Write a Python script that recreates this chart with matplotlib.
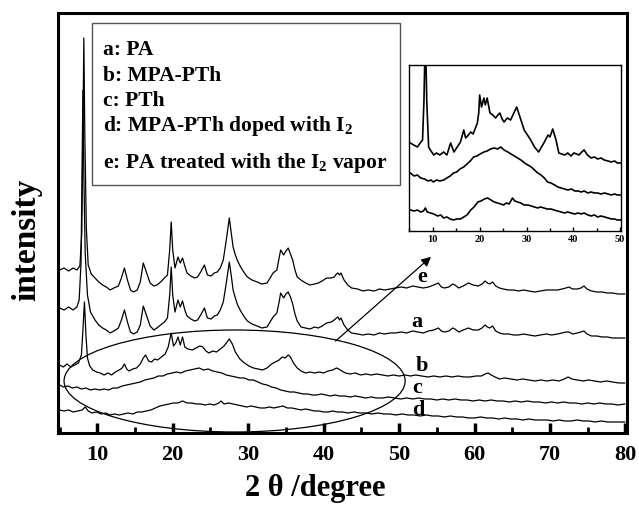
import matplotlib
matplotlib.use("Agg")
import matplotlib.pyplot as plt
from matplotlib.patches import Ellipse, Rectangle
from matplotlib.ticker import MultipleLocator

plt.rcParams["font.family"] = "Liberation Serif"
plt.rcParams["font.weight"] = "bold"
plt.rcParams["mathtext.fontset"] = "custom"
plt.rcParams["mathtext.rm"] = "Liberation Serif:bold"
plt.rcParams["mathtext.bf"] = "Liberation Serif:bold"
plt.rcParams["mathtext.default"] = "bf"

# ---- main XRD curves (arbitrary intensity units, offset traces) ----
e_x = [5.0, 5.6, 6.2, 6.8, 7.3, 7.7, 7.95, 8.1, 8.22, 8.35, 8.55, 8.8, 9.2, 9.7, 10.2, 10.7, 11.2, 11.7,
       12.2, 12.8, 13.2, 13.6, 14.0, 14.4, 14.8, 15.3, 15.7, 16.1, 16.5, 17.0, 17.5, 17.9, 18.4, 18.9,
       19.3, 19.6, 19.8, 20.0, 20.3, 20.7, 21.0, 21.3, 21.6, 21.9, 22.4, 22.9, 23.3, 23.7, 24.2, 24.6,
       25.1, 25.5, 25.9, 26.3, 26.7, 27.1, 27.5, 27.8, 28.0, 28.3, 28.6, 29.0, 29.5, 29.9, 30.5, 31.2,
       31.8, 32.5, 32.9, 33.3, 33.8, 34.1, 34.3, 34.7, 35.0, 35.3, 35.6, 35.9, 36.2, 36.5, 37.0, 37.6,
       38.2, 38.8, 39.3, 39.8, 40.4, 41.0, 41.4, 41.7, 41.9, 42.1, 42.3, 42.7, 43.2, 43.7, 44.5, 45.2,
       45.9, 46.7, 47.4, 48.1, 48.8, 49.5, 50.3, 51.0, 51.8, 52.5, 53.2, 53.9, 54.6, 55.2, 55.6, 56.0,
       56.6, 57.1, 57.4, 57.9, 58.5, 59.2, 59.8, 60.5, 61.0, 61.4, 61.7, 62.0, 62.4, 62.8, 63.3, 63.8,
       64.5, 65.2, 65.8, 66.5, 67.2, 68.0, 68.7, 69.5, 70.2, 71.0, 71.6, 72.1, 72.5, 73.0, 73.6, 74.1,
       74.5, 74.9, 75.5, 76.2, 76.9, 77.6, 78.3, 79.0, 79.9]
e_y = [163, 165, 162, 165, 163, 167, 200, 300, 395, 300, 205, 168, 159, 155, 151, 148, 146, 143,
       145, 147, 155, 165, 153, 143, 141, 143, 151, 170, 161, 150, 147, 148, 151, 155,
       158, 183, 211, 183, 165, 176, 170, 175, 167, 160, 157, 155, 156, 161, 168, 158,
       157, 160, 161, 165, 173, 193, 215, 198, 186, 178, 172, 166, 160, 156, 153, 151,
       149, 150, 155, 160, 163, 175, 183, 178, 182, 185, 179, 173, 163, 156, 153, 150,
       148, 149, 150, 152, 155, 155, 156, 159, 160, 158, 160, 153, 148, 145, 144, 142,
       143, 142, 144, 143, 144, 145, 146, 145, 147, 146, 145, 146, 148, 150, 146, 145,
       146, 149, 148, 145, 147, 150, 148, 147, 149, 152, 150, 149, 151, 147, 145, 144,
       143, 143, 142, 143, 142, 141, 142, 143, 143, 143, 144, 145, 146, 144, 144, 145,
       147, 144, 142, 141, 141, 140, 140, 139, 139]

a_x = [5.0, 5.6, 6.2, 6.8, 7.3, 7.6, 7.85, 7.98, 8.1, 8.22, 8.4, 8.7, 9.1, 9.7, 10.2, 10.7, 11.2, 11.7,
       12.2, 12.8, 13.2, 13.6, 14.0, 14.4, 14.8, 15.3, 15.7, 16.1, 16.5, 17.0, 17.5, 17.9, 18.4, 18.9,
       19.3, 19.6, 19.8, 20.0, 20.3, 20.7, 21.0, 21.3, 21.6, 21.9, 22.4, 22.9, 23.3, 23.7, 24.2, 24.6,
       25.1, 25.5, 25.9, 26.3, 26.7, 27.1, 27.5, 27.8, 28.0, 28.3, 28.6, 29.0, 29.5, 29.9, 30.5, 31.2,
       31.8, 32.5, 32.9, 33.3, 33.8, 34.1, 34.3, 34.7, 35.0, 35.3, 35.6, 35.9, 36.2, 36.5, 37.0, 37.6,
       38.2, 38.8, 39.3, 39.8, 40.4, 41.0, 41.4, 41.7, 41.9, 42.1, 42.3, 42.7, 43.2, 43.7, 44.5, 45.2,
       45.9, 46.7, 47.4, 48.1, 48.8, 49.5, 50.3, 51.0, 51.8, 52.5, 53.2, 53.9, 54.6, 55.2, 55.6, 56.0,
       56.6, 57.1, 57.4, 57.9, 58.5, 59.2, 59.8, 60.5, 61.0, 61.4, 61.7, 62.0, 62.4, 62.8, 63.3, 63.8,
       64.5, 65.2, 65.8, 66.5, 67.2, 68.0, 68.7, 69.5, 70.2, 71.0, 71.6, 72.1, 72.5, 73.0, 73.6, 74.1,
       74.5, 74.9, 75.5, 76.2, 76.9, 77.6, 78.3, 79.0, 79.9]
a_y = [125, 123, 126, 123, 126, 133, 170, 260, 343, 260, 180, 138, 121, 113, 108, 105, 103, 100,
       102, 105, 113, 123, 111, 101, 99, 101, 108, 127, 118, 107, 103, 105, 108, 111,
       115, 138, 166, 138, 121, 133, 126, 132, 123, 117, 114, 112, 113, 118, 125, 115,
       114, 117, 118, 123, 131, 150, 171, 155, 143, 135, 128, 122, 116, 112, 109, 107,
       105, 106, 111, 116, 120, 131, 140, 135, 139, 141, 136, 129, 119, 112, 106, 105,
       104, 106, 105, 107, 110, 111, 113, 115, 116, 113, 115, 108, 103, 100, 99, 98,
       99, 98, 100, 99, 100, 100, 101, 100, 102, 101, 100, 102, 103, 105, 102, 101,
       102, 105, 104, 101, 103, 105, 103, 103, 105, 108, 106, 105, 107, 102, 100, 99,
       99, 98, 98, 99, 98, 97, 98, 99, 98, 99, 100, 101, 101, 99, 100, 101,
       102, 99, 97, 97, 96, 96, 95, 95, 95]

b_x = [5.0, 5.5, 6.0, 6.5, 7.0, 7.5, 7.9, 8.1, 8.3, 8.5, 8.7, 9.0, 9.4, 9.9, 10.4, 10.9, 11.4, 11.9,
       12.4, 12.9, 13.3, 13.6, 13.9, 14.2, 14.7, 15.2, 15.7, 16.1, 16.4, 16.8, 17.2, 17.6, 18.0, 18.5,
       19.0, 19.4, 19.8, 20.1, 20.4, 20.7, 21.0, 21.3, 21.6, 22.0, 22.6, 23.1, 23.6, 24.0, 24.4, 24.8,
       25.3, 25.8, 26.3, 26.8, 27.2, 27.5, 27.9, 28.3, 28.9, 29.5, 30.1, 30.7, 31.3, 31.9, 32.5, 33.1,
       33.6, 34.1, 34.5, 34.9, 35.3, 35.6, 36.0, 36.5, 37.0, 37.6, 38.2, 38.8, 39.4, 40.0, 40.6, 41.2,
       41.7, 42.0, 42.4, 42.9, 43.5, 44.2, 44.9, 45.6, 46.3, 47.0, 47.8, 48.5, 49.2, 50.0, 50.8, 51.5,
       52.2, 53.0, 53.8, 54.6, 55.4, 56.2, 57.0, 57.8, 58.6, 59.4, 60.2, 60.9, 61.4, 61.8, 62.2, 62.7,
       63.3, 64.0, 64.8, 65.6, 66.4, 67.2, 68.0, 68.8, 69.6, 70.4, 71.2, 71.9, 72.4, 72.9, 73.6, 74.4,
       75.1, 75.9, 76.7, 77.5, 78.3, 79.1, 79.9]
b_y = [68, 66, 69, 66, 68, 70, 78, 103, 131, 98, 75, 67, 63, 61, 60, 58, 60, 58,
       61, 63, 65, 69, 64, 62, 64, 65, 69, 75, 78, 72, 71, 74, 73, 76,
       79, 86, 100, 87, 90, 96, 88, 96, 86, 84, 83, 85, 87, 86, 82, 80,
       82, 81, 84, 87, 91, 94, 89, 81, 74, 70, 67, 65, 64, 63, 65, 69,
       71, 73, 76, 75, 78, 76, 70, 65, 62, 60, 61, 60, 61, 60, 62, 63,
       65, 64, 62, 60, 59, 60, 58, 59, 58, 59, 58, 57, 58, 57, 58, 57,
       58, 57, 56, 57, 56, 57, 56, 57, 56, 56, 57, 57, 59, 60, 58, 56,
       54, 55, 54, 53, 54, 53, 52, 53, 52, 53, 52, 54, 56, 54, 53, 52,
       53, 52, 51, 52, 51, 50, 50]

c_x = [5.0, 5.5, 6.1, 6.7, 7.3, 7.9, 8.5, 9.1, 9.7, 10.3, 10.9, 11.5, 12.1, 12.7, 13.3, 13.9, 14.5, 15.1,
       15.7, 16.3, 16.9, 17.5, 18.1, 18.7, 19.3, 19.9, 20.5, 21.1, 21.7, 22.3, 22.9, 23.5, 24.1, 24.7,
       25.3, 25.9, 26.5, 27.1, 27.7, 28.3, 28.9, 29.5, 30.1, 30.7, 31.3, 31.9, 32.5, 33.1, 33.7, 34.3,
       34.9, 35.5, 36.1, 36.7, 37.3, 37.9, 38.5, 39.1, 39.7, 40.3, 40.9, 41.5, 42.1, 42.8, 43.5, 44.2,
       44.9, 45.6, 46.3, 47.0, 47.8, 48.6, 49.4, 50.2, 51.0, 51.8, 52.6, 53.4, 54.2, 55.0, 55.8, 56.6,
       57.4, 58.2, 59.0, 59.8, 60.6, 61.4, 62.2, 63.0, 63.8, 64.6, 65.4, 66.2, 67.0, 67.8, 68.6, 69.4,
       70.2, 71.0, 71.8, 72.6, 73.4, 74.2, 75.0, 75.8, 76.6, 77.4, 78.2, 79.0, 79.9]
c_y = [48, 46, 47, 45, 46, 44, 45, 43, 44, 43, 44, 43, 45, 45, 47, 48, 49, 50,
       51, 53, 54, 55, 57, 57, 59, 60, 61, 60, 62, 63, 64, 65, 63, 64,
       62, 61, 60, 58, 57, 56, 55, 55, 53, 53, 51, 49, 48, 46, 45, 43,
       42, 41, 41, 40, 39, 39, 38, 38, 39, 38, 37, 38, 37, 37, 36, 37,
       36, 35, 36, 35, 35, 36, 35, 34, 35, 34, 35, 34, 34, 33, 34, 33,
       34, 33, 33, 32, 33, 32, 33, 32, 32, 31, 32, 31, 32, 31, 31, 30,
       31, 30, 31, 30, 30, 29, 30, 29, 30, 29, 29, 28, 29]

d_x = [5.0, 5.6, 6.2, 6.8, 7.4, 8.0, 8.4, 8.8, 9.3, 9.9, 10.5, 11.1, 11.7, 12.3, 12.9, 13.5, 14.1, 14.7,
       15.3, 15.9, 16.5, 17.1, 17.7, 18.3, 18.9, 19.5, 20.1, 20.7, 21.3, 21.9, 22.5, 23.1, 23.7, 24.3,
       24.9, 25.5, 26.1, 26.4, 26.8, 27.4, 28.0, 28.6, 29.2, 29.8, 30.4, 31.0, 31.6, 32.2, 32.8, 33.4,
       34.0, 34.6, 35.2, 35.8, 36.4, 37.0, 37.6, 38.2, 38.8, 39.4, 40.0, 40.6, 41.2, 41.8, 42.5, 43.2,
       44.0, 44.8, 45.6, 46.4, 47.2, 48.0, 48.8, 49.6, 50.4, 51.2, 52.0, 52.8, 53.6, 54.4, 55.2, 56.0,
       56.8, 57.6, 58.4, 59.2, 60.0, 60.8, 61.6, 62.4, 63.2, 64.0, 64.8, 65.6, 66.4, 67.2, 68.0, 68.8,
       69.6, 70.4, 71.2, 72.0, 72.8, 73.6, 74.4, 75.2, 76.0, 76.8, 77.6, 78.4, 79.2, 79.9]
d_y = [23, 22, 23, 21, 22, 23, 26, 22, 20, 21, 19, 20, 18, 19, 18, 19, 20, 19,
       21, 21, 22, 23, 25, 27, 28, 29, 30, 30, 32, 30, 30, 29, 29, 28,
       29, 28, 30, 32, 29, 30, 29, 28, 27, 26, 27, 26, 25, 25, 26, 25,
       26, 27, 25, 25, 24, 23, 24, 23, 22, 22, 21, 21, 22, 21, 21, 20,
       21, 20, 20, 19, 20, 19, 19, 18, 19, 18, 18, 17, 18, 17, 17, 16,
       17, 16, 16, 15, 15, 16, 15, 15, 14, 15, 14, 14, 13, 14, 13, 13,
       13, 12, 13, 12, 12, 13, 12, 12, 11, 12, 11, 11, 11, 11]

# ---- inset (enlarged b, c, d between 5 and 50 degrees) ----
ib_x = [5.2, 5.9, 6.7, 7.3, 7.8, 8.1, 8.4, 8.7, 9.1, 9.6, 10.2, 10.8, 11.5, 12.3, 13.0, 13.8, 14.5, 15.2,
        15.9, 16.6, 17.0, 17.6, 18.1, 18.6, 19.1, 19.5, 19.8, 20.0, 20.4, 20.9, 21.2, 21.6, 22.2, 22.8,
        23.4, 23.9, 24.3, 24.8, 25.2, 25.9, 26.6, 27.3, 27.9, 28.6, 29.5, 30.2, 30.9, 31.7, 32.6, 33.2,
        33.7, 34.6, 35.0, 35.6, 36.3, 36.9, 37.5, 38.2, 38.8, 39.5, 40.1, 40.7, 41.2, 41.8, 42.3, 43.0,
        43.8, 44.5, 45.2, 45.9, 46.6, 47.4, 48.1, 48.8, 49.4, 50.0]
ib_y = [88, 86, 84, 88, 91, 130, 200, 130, 84, 80, 76, 78, 76, 79, 76, 88, 79, 84,
        89, 101, 93, 96, 99, 97, 103, 108, 118, 136, 124, 133, 126, 133, 118, 116,
        113, 116, 118, 112, 109, 113, 111, 118, 124, 114, 101, 96, 91, 84, 79, 84,
        88, 96, 94, 102, 91, 78, 77, 76, 78, 75, 78, 77, 76, 79, 81, 76,
        73, 74, 72, 73, 71, 70, 69, 70, 68, 68]
ic_x = [5.2, 6.0, 6.7, 7.4, 8.2, 9.0, 9.6, 10.1, 10.8, 11.5, 12.3, 13.0, 13.7, 14.4, 15.1, 15.8, 16.6, 17.3,
        18.0, 18.7, 19.4, 20.1, 20.9, 21.6, 22.3, 23.1, 23.8, 24.5, 25.2, 26.0, 26.7, 27.4, 28.1, 28.8,
        29.6, 30.3, 31.0, 31.7, 32.4, 33.1, 33.8, 34.5, 35.2, 36.0, 36.7, 37.4, 38.1, 38.8, 39.6, 40.3,
        41.0, 41.7, 42.3, 43.1, 43.8, 44.5, 45.2, 45.9, 46.7, 47.4, 48.1, 48.8, 49.4, 50.0]
ic_y = [58, 55, 56, 53, 52, 50, 51, 49, 51, 50, 51, 53, 55, 58, 59, 62, 64, 67,
        70, 74, 75, 77, 79, 80, 82, 83, 82, 84, 81, 79, 77, 75, 73, 71,
        68, 66, 64, 61, 58, 56, 53, 49, 48, 46, 44, 43, 42, 41, 42, 40,
        40, 39, 40, 38, 39, 38, 38, 37, 38, 37, 36, 37, 36, 36]
id_x = [5.2, 6.0, 6.7, 7.4, 8.0, 8.4, 8.8, 9.5, 10.2, 11.0, 11.7, 12.3, 13.0, 13.7, 14.4, 15.1, 15.9, 16.6,
        17.3, 18.1, 18.8, 19.6, 20.3, 21.0, 21.7, 22.4, 23.1, 23.8, 24.5, 25.1, 25.7, 26.3, 27.0, 27.5,
        28.1, 28.8, 29.5, 30.3, 31.0, 31.7, 32.4, 33.0, 33.7, 34.4, 35.2, 35.9, 36.6, 37.4, 38.1, 38.8,
        39.5, 40.3, 41.0, 41.7, 42.3, 43.1, 43.8, 44.5, 45.2, 45.9, 46.7, 47.4, 48.1, 48.8, 49.4, 50.0]
id_y = [21, 20, 21, 19, 20, 23, 19, 18, 17, 15, 16, 13, 14, 12, 11, 12, 12, 14,
        16, 21, 24, 29, 30, 32, 33, 31, 29, 28, 27, 26, 28, 27, 33, 30,
        29, 28, 26, 26, 25, 24, 23, 24, 23, 22, 22, 21, 20, 19, 18, 19,
        18, 17, 18, 17, 18, 16, 15, 16, 14, 15, 14, 13, 12, 12, 11, 11]

legend_lines = ["a: PA", "b: MPA-PTh", "c: PTh", "d: MPA-PTh doped with I$_2$",
                "e: PA treated with the I$_2$ vapor"]
legend_ypos = [0.913, 0.851, 0.790, 0.732, 0.643]
curve_tags = ["e", "a", "b", "c", "d"]
tag_pos = [(53.1, 156), (52.3, 111), (53.0, 67), (52.4, 45), (52.6, 23)]

fig = plt.figure(figsize=(6.39, 5.05), dpi=100)
ax = fig.add_axes([0.0908, 0.1426, 0.8904, 0.8316])
for xs, ys in [(e_x, e_y), (a_x, a_y), (b_x, b_y), (c_x, c_y), (d_x, d_y)]:
    ax.plot(xs, ys, color="black", lw=0.9)
ax.set_xlim(4.8, 80.2)
ax.set_ylim(0, 420)
ax.set_yticks([])
ax.xaxis.set_major_locator(MultipleLocator(10))
ax.xaxis.set_minor_locator(MultipleLocator(5))
ax.tick_params(axis="x", which="major", direction="in", length=7, width=2.5, labelsize=16, pad=9)
ax.tick_params(axis="x", which="minor", direction="in", length=4, width=2)
for lab in ax.get_xticklabels():
    lab.set_fontweight("bold")
for s in ax.spines.values():
    s.set_linewidth(2.2)
ax.set_xlabel("2 θ /degree", fontsize=22, fontweight="bold")
ax.xaxis.set_label_coords(0.452, -0.098)
ax.set_ylabel("intensity", fontsize=24, fontweight="bold")
ax.yaxis.set_label_coords(-0.028, 0.46)

ax.add_patch(Ellipse((28.2, 52), 45.2, 102, fill=False, color="black", lw=0.9))
ax.annotate("", xy=(54.5, 178), xytext=(41.3, 90),
            arrowprops=dict(arrowstyle="-|>", color="black", lw=0.9, mutation_scale=14))
for t, (tx, ty) in zip(curve_tags, tag_pos):
    ax.text(tx, ty, t, fontsize=16, fontweight="bold", ha="center", va="center")

ax.add_patch(Rectangle((0.0598, 0.590), 0.541, 0.386, transform=ax.transAxes,
                       fill=False, edgecolor="#555555", lw=1.0))
for txt, yy in zip(legend_lines, legend_ypos):
    ax.text(0.079, yy, txt, transform=ax.transAxes, fontsize=15.5, fontweight="bold", va="center")

ins = fig.add_axes([0.640, 0.5426, 0.332, 0.3287])
for xs, ys in [(ib_x, ib_y), (ic_x, ic_y), (id_x, id_y)]:
    ins.plot(xs, ys, color="black", lw=1.2)
ins.set_xlim(4.9, 50.2)
ins.set_ylim(0, 166)
ins.set_yticks([])
ins.xaxis.set_major_locator(MultipleLocator(10))
ins.xaxis.set_minor_locator(MultipleLocator(5))
ins.tick_params(axis="x", which="major", direction="in", length=3, width=1, labelsize=7.5, pad=3)
ins.tick_params(axis="x", which="minor", direction="in", length=2, width=1)
for lab in ins.get_xticklabels():
    lab.set_fontweight("bold")
for s in ins.spines.values():
    s.set_linewidth(1.0)

fig.savefig("out.png", dpi=100)
